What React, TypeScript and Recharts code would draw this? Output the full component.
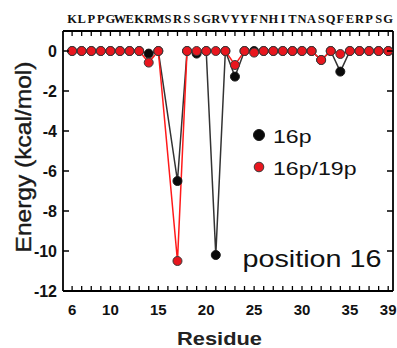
import React from 'react';
import { LineChart, Line, XAxis, YAxis, Label, Legend } from 'recharts';

const residues = [6, 7, 8, 9, 10, 11, 12, 13, 14, 15, 16, 17, 18, 19, 20, 21, 22, 23, 24, 25, 26, 27, 28, 29, 30, 31, 32, 33, 34, 35, 36, 37, 38, 39];
const sequence = 'KLPPGWEKRMSRSSGRVYYFNHITNASQFERPSG'.split('');
const energy16p = [0, 0, 0, 0, 0, 0, 0, 0, -0.13, 0, null, -6.5, 0, -0.13, 0, -10.2, 0, -1.28, 0, 0, 0, 0, 0, 0, 0, 0, -0.45, 0, -1.03, 0, 0, 0, 0, 0];
const energy16p19p = [0, 0, 0, 0, 0, 0, 0, 0, -0.58, 0, null, -10.5, 0, 0, 0, 0, 0, -0.7, 0, -0.08, 0, 0, 0, 0, 0, 0, -0.45, 0, -0.15, 0, 0, 0, 0, 0];
const residueLabels = [6, 10, 15, 20, 25, 30, 35, 39];
const energyTicks = [0, -2, -4, -6, -8, -10, -12];

const data = residues.map((r, i) => ({
  residue: r,
  letter: sequence[i],
  e16p: energy16p[i],
  e16p19p: energy16p19p[i],
}));

const SANS = '"Liberation Sans", Arial, sans-serif';
const SERIF = '"Liberation Serif", "DejaVu Serif", "Times New Roman", serif';
const INK = '#111';

const series = [
  { key: 'e16p', name: '16p', line: '#333', fill: '#0a0a0a', edge: '#1a1a1a' },
  { key: 'e16p19p', name: '16p/19p', line: '#ff1a1a', fill: '#e8161e', edge: '#3a3a3a' },
];

const BottomTick = (props: any) => {
  const { x, y, payload } = props;
  const v = payload.value;
  return (
    <g>
      <line x1={x} x2={x} y1={y} y2={y - 5} stroke="#000" strokeWidth={1.3} />
      {residueLabels.includes(v) && (
        <text x={x} y={y + 24} textAnchor="middle" style={{ fontFamily: SANS, fontWeight: 'bold', fontSize: 15 }} fill={INK}>
          {v}
        </text>
      )}
    </g>
  );
};

const TopTick = (props: any) => {
  const { x, y, payload } = props;
  const idx = residues.indexOf(payload.value);
  return (
    <g>
      <line x1={x} x2={x} y1={y} y2={y + 5} stroke="#000" strokeWidth={1.3} />
      <text x={x} y={y - 8} textAnchor="middle" style={{ fontFamily: SERIF, fontWeight: 'bold', fontSize: 12.5 }} fill={INK}>
        {sequence[idx]}
      </text>
    </g>
  );
};

const LeftTick = (props: any) => {
  const { x, y, payload } = props;
  return (
    <g>
      <line x1={x} x2={x + 6} y1={y} y2={y} stroke="#000" strokeWidth={1.5} />
      <text x={x - 6} y={y + 5.5} textAnchor="end" style={{ fontFamily: SANS, fontWeight: 'bold', fontSize: 16 }} fill={INK}>
        {payload.value}
      </text>
    </g>
  );
};

const RightTick = (props: any) => {
  const { x, y } = props;
  return <line x1={x} x2={x - 6} y1={y} y2={y} stroke="#000" strokeWidth={1.5} />;
};

const LegendBox = (props: any) => {
  const items = props.payload || [];
  return (
    <svg width={130} height={60} style={{ overflow: 'visible' }}>
      {items.map((it: any, i: number) => {
        const s = series.find((q) => q.name === it.value) || series[i];
        const cy = 13 + i * 32;
        return (
          <g key={it.value}>
            <circle cx={9} cy={cy} r={i === 0 ? 5.5 : 4.8} fill={s.fill} stroke={s.edge} strokeWidth={1} />
            <text x={23} y={cy + 7.5} style={{ fontFamily: SANS, fontSize: 19 }} fill={INK} textLength={i === 0 ? 38.5 : 83.5} lengthAdjust="spacingAndGlyphs">
              {it.value}
            </text>
          </g>
        );
      })}
    </svg>
  );
};

export default function App() {
  return (
    <div style={{ position: 'absolute', left: 0, top: 0, background: '#fff' }}>
      <LineChart width={397} height={348} data={data} margin={{ top: 11, right: 0, bottom: 27, left: 13 }}>
        <XAxis
          xAxisId="bottom"
          dataKey="residue"
          type="number"
          domain={[5.05, 39.5]}
          allowDataOverflow
          ticks={residues}
          interval={0}
          height={30}
          tickSize={0}
          tickMargin={0}
          tickLine={false}
          axisLine={{ stroke: '#000', strokeWidth: 1.8 }}
          tick={<BottomTick />}
        >
          <Label
            content={() => (
              <text x={219.5} y={345} textAnchor="middle" style={{ fontFamily: SANS, fontWeight: 'bold', fontSize: 19 }} fill="#222" textLength={85} lengthAdjust="spacingAndGlyphs">
                Residue
              </text>
            )}
          />
        </XAxis>
        <XAxis
          xAxisId="top"
          orientation="top"
          dataKey="residue"
          type="number"
          domain={[5.05, 39.5]}
          allowDataOverflow
          ticks={residues}
          interval={0}
          height={20}
          tickSize={0}
          tickMargin={0}
          tickLine={false}
          axisLine={{ stroke: '#000', strokeWidth: 1.8 }}
          tick={<TopTick />}
        />
        <YAxis
          yAxisId="left"
          type="number"
          domain={[-12, 1]}
          allowDataOverflow
          ticks={energyTicks}
          interval={0}
          width={50}
          tickSize={0}
          tickMargin={0}
          tickLine={false}
          axisLine={{ stroke: '#000', strokeWidth: 1.8 }}
          tick={<LeftTick />}
        >
          <Label
            content={() => (
              <text
                x={31}
                y={157}
                transform="rotate(-90 31 157)"
                textAnchor="middle"
                style={{ fontFamily: SANS, fontSize: 22 }}
                fill="#1a1a1a"
                stroke="#1a1a1a"
                strokeWidth={0.4}
                textLength={191}
                lengthAdjust="spacingAndGlyphs"
              >
                Energy (kcal/mol)
              </text>
            )}
          />
        </YAxis>
        <YAxis
          yAxisId="right"
          orientation="right"
          type="number"
          domain={[-12, 1]}
          allowDataOverflow
          ticks={energyTicks}
          interval={0}
          width={4}
          tickSize={0}
          tickMargin={0}
          tickLine={false}
          axisLine={{ stroke: '#000', strokeWidth: 1.8 }}
          tick={<RightTick />}
        >
          <Label
            content={() => (
              <text x={242.5} y={267} style={{ fontFamily: SANS, fontSize: 24 }} fill={INK} textLength={139} lengthAdjust="spacingAndGlyphs">
                position 16
              </text>
            )}
          />
        </YAxis>
        {series.map((s) => (
          <Line
            key={s.key}
            xAxisId="bottom"
            yAxisId="left"
            dataKey={s.key}
            name={s.name}
            type="linear"
            stroke={s.line}
            strokeWidth={1.5}
            connectNulls
            dot={{ r: 4.5, fill: s.fill, stroke: s.edge, strokeWidth: 1 }}
            activeDot={false}
            isAnimationActive={false}
          />
        ))}
        <Legend
          layout="vertical"
          align="center"
          verticalAlign="middle"
          content={<LegendBox />}
          wrapperStyle={{ position: 'absolute', left: 250, top: 122, width: 130, height: 60 }}
        />
      </LineChart>
    </div>
  );
}
